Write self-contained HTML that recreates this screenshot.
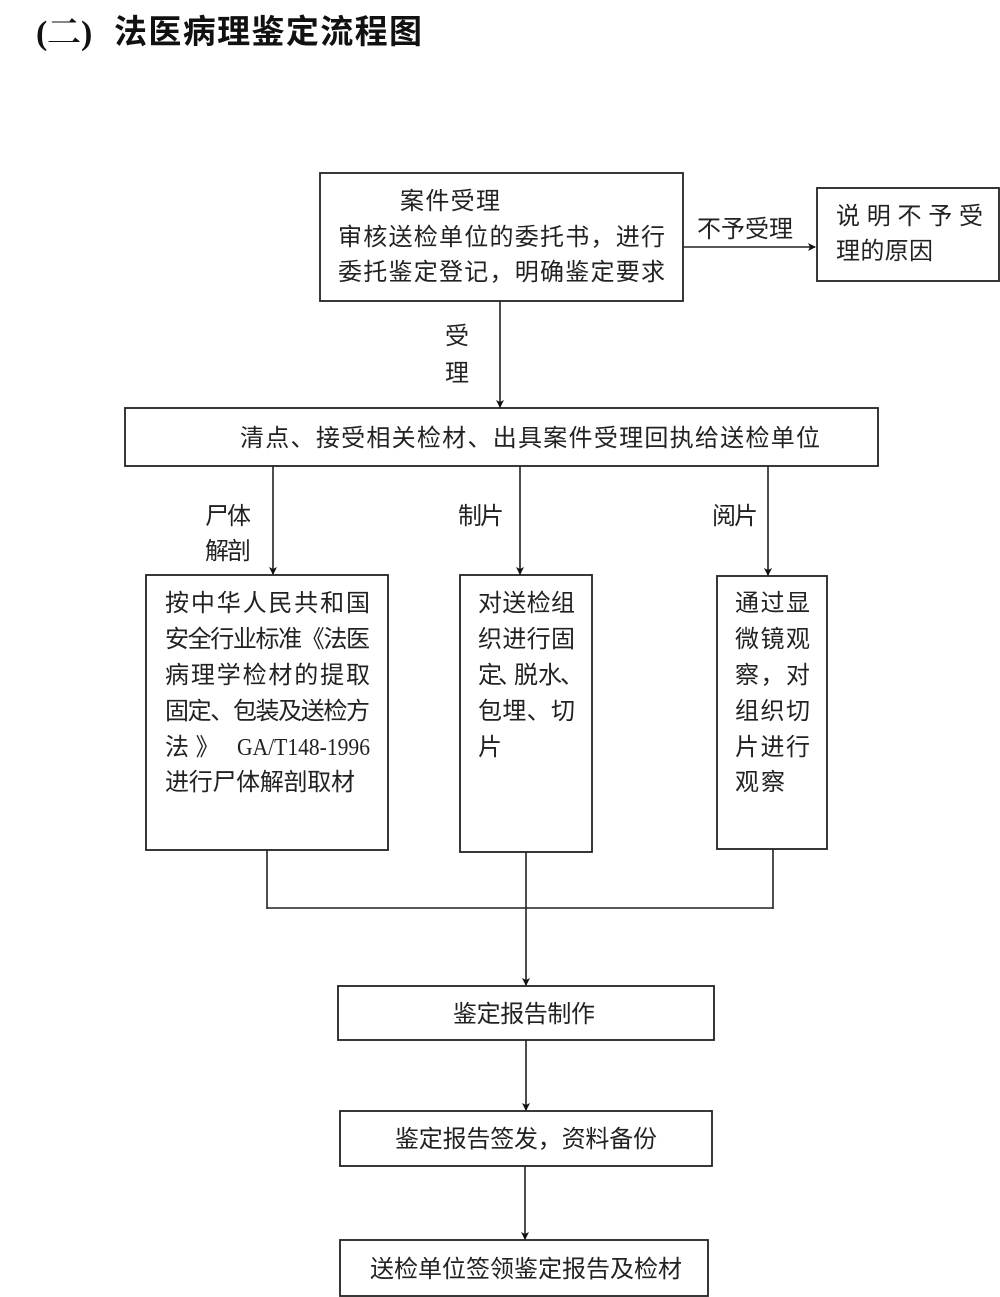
<!DOCTYPE html>
<html><head><meta charset="utf-8"><style>
html,body{margin:0;padding:0;background:#fff;}
svg{display:block;}
text{font-family:"Liberation Sans","Noto Sans CJK SC",sans-serif;font-size:24px;fill:#222;}
.s{font-family:"Liberation Serif","Noto Serif CJK SC",serif;}
</style></head><body>
<svg width="1000" height="1297" viewBox="0 0 1000 1297" xmlns="http://www.w3.org/2000/svg">
<defs>
<marker id="a" markerWidth="8" markerHeight="8" refX="7" refY="4" orient="auto" markerUnits="userSpaceOnUse">
<path d="M0,0 L8,4 L0,8 L2,4 Z" fill="#111"/>
</marker>
</defs>
<!-- title -->
<text x="36" y="44" style="font-family:'Liberation Serif',serif;font-size:34px;font-weight:bold;fill:#111">(</text>
<text x="47" y="44" style="font-family:'Liberation Serif','Noto Serif CJK SC',serif;font-size:34px;font-weight:bold;fill:#111">二)</text>
<text x="114" y="43" textLength="308" lengthAdjust="spacing" style="font-family:'Noto Sans CJK SC',sans-serif;font-size:33px;font-weight:bold;fill:#111">法医病理鉴定流程图</text>

<g fill="none" stroke="#222" stroke-width="1.8">
<rect x="320" y="173" width="363" height="128"/>
<rect x="817" y="188" width="182" height="93"/>
<rect x="125" y="408" width="753" height="58"/>
<rect x="146" y="575" width="242" height="275"/>
<rect x="460" y="575" width="132" height="277"/>
<rect x="717" y="576" width="110" height="273"/>
<rect x="338" y="986" width="376" height="54"/>
<rect x="340" y="1111" width="372" height="55"/>
<rect x="340" y="1240" width="368" height="56"/>
</g>
<g stroke="#222" stroke-width="1.6" fill="none">
<line x1="683" y1="247" x2="815" y2="247" marker-end="url(#a)"/>
<line x1="500" y1="301" x2="500" y2="407" marker-end="url(#a)"/>
<line x1="273" y1="466" x2="273" y2="574" marker-end="url(#a)"/>
<line x1="520" y1="466" x2="520" y2="574" marker-end="url(#a)"/>
<line x1="768" y1="466" x2="768" y2="575" marker-end="url(#a)"/>
<line x1="267" y1="850" x2="267" y2="909"/>
<line x1="773" y1="849" x2="773" y2="909"/>
<line x1="267" y1="908" x2="773" y2="908"/>
<line x1="526" y1="852" x2="526" y2="985" marker-end="url(#a)"/>
<line x1="526" y1="1040" x2="526" y2="1110" marker-end="url(#a)"/>
<line x1="525" y1="1166" x2="525" y2="1239" marker-end="url(#a)"/>
</g>

<!-- box 1 -->
<text x="400" y="209" textLength="100" lengthAdjust="spacing">案件受理</text>
<text x="338" y="245" textLength="327" lengthAdjust="spacing">审核送检单位的委托书，进行</text>
<text x="338" y="280" textLength="327" lengthAdjust="spacing">委托鉴定登记，明确鉴定要求</text>
<text x="697" y="237" textLength="96" lengthAdjust="spacing">不予受理</text>
<text x="836" y="224" textLength="147" lengthAdjust="spacing">说明不予受</text>
<text x="836" y="259" textLength="97" lengthAdjust="spacing">理的原因</text>
<text x="445" y="344">受</text>
<text x="445" y="381">理</text>

<!-- box 2 -->
<text x="240" y="446" textLength="580" lengthAdjust="spacing">清点、接受相关检材、出具案件受理回执给送检单位</text>
<text x="205" y="524" textLength="46" lengthAdjust="spacing">尸体</text>
<text x="205" y="559" textLength="46" lengthAdjust="spacing">解剖</text>
<text x="458" y="524" textLength="46" lengthAdjust="spacing">制片</text>
<text x="712" y="524" textLength="46" lengthAdjust="spacing">阅片</text>

<!-- box A -->
<text x="165" y="611" textLength="205" lengthAdjust="spacing">按中华人民共和国</text>
<text x="165" y="647" textLength="205" lengthAdjust="spacing">安全行业标准《法医</text>
<text x="165" y="683" textLength="205" lengthAdjust="spacing">病理学检材的提取</text>
<text x="165" y="719" textLength="205" lengthAdjust="spacing">固定、包装及送检方</text>
<text x="165" y="755">法 》</text>
<text x="237" y="755" class="s" textLength="133" lengthAdjust="spacingAndGlyphs">GA/T148-1996</text>
<text x="165" y="790" textLength="190" lengthAdjust="spacing">进行尸体解剖取材</text>

<!-- box B -->
<text x="478" y="611" textLength="97" lengthAdjust="spacing">对送检组</text>
<text x="478" y="647" textLength="97" lengthAdjust="spacing">织进行固</text>
<text x="478" y="683">定</text>
<text x="498" y="683">、</text>
<text x="514" y="683">脱水</text>
<text x="560" y="683">、</text>
<text x="478" y="719" textLength="97" lengthAdjust="spacing">包埋、切</text>
<text x="478" y="755">片</text>

<!-- box C -->
<text x="735" y="611" textLength="75" lengthAdjust="spacing">通过显</text>
<text x="735" y="647" textLength="75" lengthAdjust="spacing">微镜观</text>
<text x="735" y="683" textLength="75" lengthAdjust="spacing">察，对</text>
<text x="735" y="719" textLength="75" lengthAdjust="spacing">组织切</text>
<text x="735" y="755" textLength="75" lengthAdjust="spacing">片进行</text>
<text x="735" y="790" textLength="50" lengthAdjust="spacing">观察</text>

<!-- bottom boxes -->
<text x="453" y="1022" textLength="142" lengthAdjust="spacing">鉴定报告制作</text>
<text x="395" y="1147" textLength="262" lengthAdjust="spacing">鉴定报告签发，资料备份</text>
<text x="370" y="1277" textLength="312" lengthAdjust="spacing">送检单位签领鉴定报告及检材</text>
</svg>
</body></html>
